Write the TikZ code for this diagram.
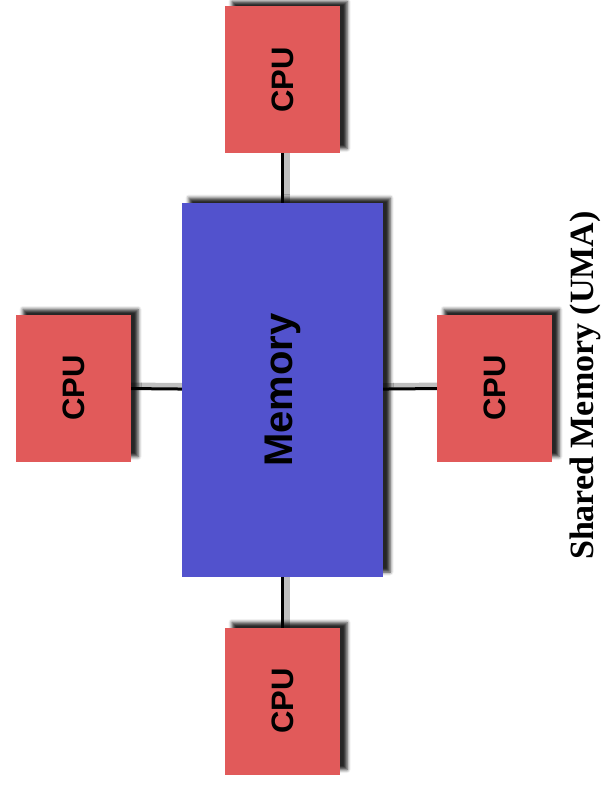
\documentclass[tikz,border=0pt]{standalone}
\usepackage{fontspec}
\setmainfont{Liberation Serif}
\setsansfont{Liberation Sans}
\usetikzlibrary{shadows.blur,backgrounds}

\newlength{\du}
\setlength{\du}{1pt}

\definecolor{cpucolor}{rgb}{0.882353, 0.352941, 0.352941}
\definecolor{memcolor}{rgb}{0.321569, 0.321569, 0.803922}

\tikzset{
  boxshadow/.style={blur shadow={shadow xshift=7\du, shadow yshift=5\du,
      shadow blur radius=3.5\du, shadow opacity=85}},
  cpubox/.style={boxshadow, fill=cpucolor, rotate=90, inner sep=0pt,
      minimum width=147\du, minimum height=115\du,
      font=\sffamily\bfseries\fontsize{31}{36}\selectfont},
  membox/.style={boxshadow, fill=memcolor, rotate=90, inner sep=0pt,
      minimum width=374\du, minimum height=201\du,
      font=\sffamily\bfseries\fontsize{40}{46}\selectfont},
  wire/.style={line width=3\du, black, shorten <=-6\du, shorten >=-6\du,
      preaction={draw=black!25, line width=6\du,
        transform canvas={xshift=4\du, yshift=3\du}}},
  caption/.style={rotate=90, anchor=base,
      font=\rmfamily\bfseries\fontsize{34}{40}\selectfont}
}

\begin{document}
\begin{tikzpicture}
\pgftransformxscale{1.000000}
\pgftransformyscale{-1.000000}
\useasboundingbox (0\du,0\du) rectangle (601\du,794\du);
% memory in the middle
\node[membox] (mem) at (282.5\du,390\du) {Memory};
% the four processors
\node[cpubox] (cpuT) at (282.5\du,80\du) {CPU};
\node[cpubox] (cpuL) at (73.5\du,388\du) {CPU};
\node[cpubox] (cpuR) at (494.5\du,388\du) {CPU};
\node[cpubox] (cpuB) at (282.5\du,701\du) {CPU};
% was here!!!
\begin{scope}[on background layer]
\draw[wire] (cpuT) -- (mem);
\draw[wire] (cpuL) -- (mem);
\draw[wire] (cpuR) -- (mem);
\draw[wire] (cpuB) -- (mem);
\end{scope}
\node[caption] (title) at (593\du,385.5\du) {Shared Memory (UMA)};
\end{tikzpicture}
\end{document}
